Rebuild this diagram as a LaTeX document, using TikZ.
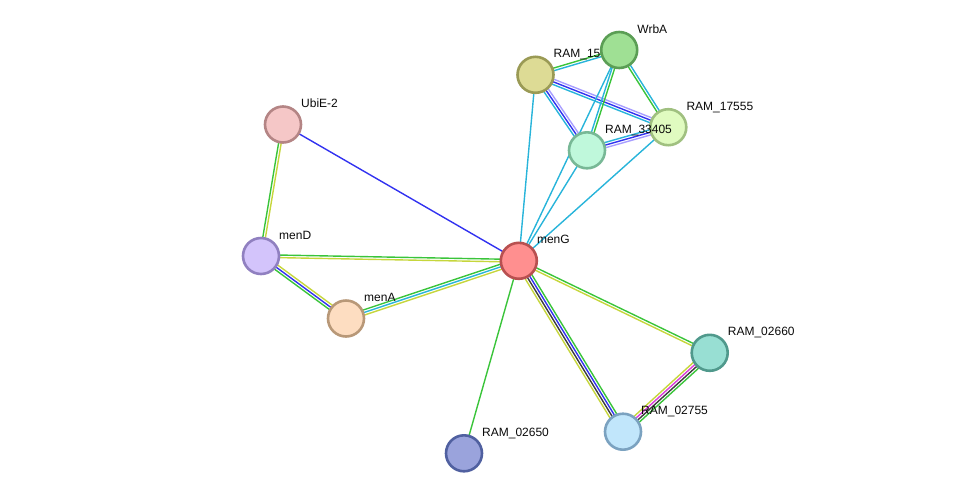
\documentclass[tikz,border=0pt]{standalone}
\usepackage{fontspec}
\setmainfont{Liberation Sans}
\usetikzlibrary{calc}
\pgfdeclarelayer{background}
\pgfsetlayers{background,main}
\definecolor{egreen}{RGB}{58,196,58}
\definecolor{eyellow}{RGB}{198,214,60}
\definecolor{ecyan}{RGB}{40,180,218}
\definecolor{eblue}{RGB}{50,50,240}
\definecolor{elav}{RGB}{168,158,255}
\definecolor{emag}{RGB}{218,60,218}
\definecolor{egray}{RGB}{60,60,60}
\tikzset{
  edge/.style={line width=1.4pt},
  prot/.style={circle, minimum size=36pt, inner sep=0pt, line width=2.6pt},
  lbl/.style={anchor=base west, font=\fontsize{12}{14}\selectfont, text={rgb,255:red,10;green,10;blue,10}, inner sep=0pt}
}
\newcommand{\lnk}[4]{\draw[edge,#4] ($(#1.center)!#3!90:(#2.center)$) -- ($(#2.center)!#3!-90:(#1.center)$);}
\begin{document}
\begin{tikzpicture}[x=1pt,y=-1pt]
\useasboundingbox (0,0) rectangle (975,499);
% nodes and labels (order matters for overlap)
\node[prot, fill={rgb,255:red,245;green,199;blue,199}, draw={rgb,255:red,180;green,133;blue,133}] (ubie) at (283,124.5) {};
\node[lbl] (lubie) at (301,107.5) {UbiE-2};
\node[prot, fill={rgb,255:red,211;green,196;blue,251}, draw={rgb,255:red,144;green,128;blue,192}] (mend) at (261,256) {};
\node[lbl] (lmend) at (279,239) {menD};
\node[prot, fill={rgb,255:red,253;green,221;blue,193}, draw={rgb,255:red,184;green,152;blue,120}] (mena) at (346,318.5) {};
\node[lbl] (lmena) at (364,301.5) {menA};
\node[prot, fill={rgb,255:red,154;green,163;blue,220}, draw={rgb,255:red,80;green,96;blue,160}] (r02650) at (464,453.3) {};
\node[lbl] (lr02650) at (482,436.3) {RAM\_02650};
\node[prot, fill={rgb,255:red,152;green,223;blue,211}, draw={rgb,255:red,80;green,153;blue,140}] (r02660) at (709.7,352.8) {};
\node[lbl] (lr02660) at (727.7,335.8) {RAM\_02660};
\node[prot, fill={rgb,255:red,193;green,230;blue,251}, draw={rgb,255:red,123;green,162;blue,192}] (r02755) at (623,431.7) {};
\node[lbl] (lr02755) at (641,414.7) {RAM\_02755};
\node[prot, fill={rgb,255:red,221;green,219;blue,149}, draw={rgb,255:red,154;green,154;blue,85}] (r15) at (535.5,74.8) {};
\node[lbl] (lr15) at (553.5,57.8) {RAM\_15};
\node[prot, fill={rgb,255:red,159;green,224;blue,148}, draw={rgb,255:red,91;green,158;blue,85}] (wrba) at (619.2,50) {};
\node[lbl] (lwrba) at (637.2,33) {WrbA};
\node[prot, fill={rgb,255:red,224;green,251;blue,192}, draw={rgb,255:red,160;green,192;blue,128}] (r17555) at (668.3,127.2) {};
\node[lbl] (lr17555) at (686.3,110.2) {RAM\_17555};
\node[prot, fill={rgb,255:red,191;green,248;blue,219}, draw={rgb,255:red,120;green,184;blue,150}] (r33405) at (587,150.3) {};
\node[lbl] (lr33405) at (605,133.3) {RAM\_33405};
\node[prot, fill={rgb,255:red,255;green,143;blue,143}, draw={rgb,255:red,184;green,80;blue,80}] (meng) at (518.8,260.8) {};
\node[lbl] (lmeng) at (536.8,243.8) {menG};
% edges
\begin{pgfonlayer}{background}
\lnk{ubie}{meng}{0pt}{eblue}
\lnk{ubie}{mend}{1.3pt}{eyellow}
\lnk{ubie}{mend}{-1.3pt}{egreen}
\lnk{mend}{meng}{1.3pt}{egreen}
\lnk{mend}{meng}{-1.3pt}{eyellow}
\lnk{mend}{mena}{2.6pt}{eyellow}
\lnk{mend}{mena}{0pt}{eblue}
\lnk{mend}{mena}{-2.6pt}{egreen}
\lnk{mena}{meng}{2.6pt}{egreen}
\lnk{mena}{meng}{0pt}{ecyan}
\lnk{mena}{meng}{-2.6pt}{eyellow}
\lnk{meng}{r02650}{0pt}{egreen}
\lnk{meng}{r02660}{1.3pt}{egreen}
\lnk{meng}{r02660}{-1.3pt}{eyellow}
\lnk{meng}{r02755}{3.9pt}{egreen}
\lnk{meng}{r02755}{1.3pt}{eblue}
\lnk{meng}{r02755}{-1.3pt}{egray}
\lnk{meng}{r02755}{-3.9pt}{eyellow}
\lnk{r02755}{r02660}{3.9pt}{eyellow}
\lnk{r02755}{r02660}{1.3pt}{emag}
\lnk{r02755}{r02660}{-1.3pt}{egray}
\lnk{r02755}{r02660}{-3.9pt}{egreen}
\lnk{r15}{wrba}{1.3pt}{egreen}
\lnk{r15}{wrba}{-1.3pt}{ecyan}
\lnk{r15}{r17555}{2.6pt}{elav}
\lnk{r15}{r17555}{0pt}{eblue}
\lnk{r15}{r17555}{-2.6pt}{ecyan}
\lnk{r15}{r33405}{2.6pt}{elav}
\lnk{r15}{r33405}{0pt}{eblue}
\lnk{r15}{r33405}{-2.6pt}{ecyan}
\lnk{r33405}{r17555}{2.6pt}{ecyan}
\lnk{r33405}{r17555}{0pt}{eblue}
\lnk{r33405}{r17555}{-2.6pt}{elav}
\lnk{wrba}{r17555}{1.3pt}{ecyan}
\lnk{wrba}{r17555}{-1.3pt}{egreen}
\lnk{wrba}{r33405}{1.3pt}{egreen}
\lnk{wrba}{r33405}{-1.3pt}{ecyan}
\lnk{r15}{meng}{0pt}{ecyan}
\lnk{wrba}{meng}{0pt}{ecyan}
\lnk{r33405}{meng}{0pt}{ecyan}
\lnk{r17555}{meng}{0pt}{ecyan}
\end{pgfonlayer}
\end{tikzpicture}
\end{document}
